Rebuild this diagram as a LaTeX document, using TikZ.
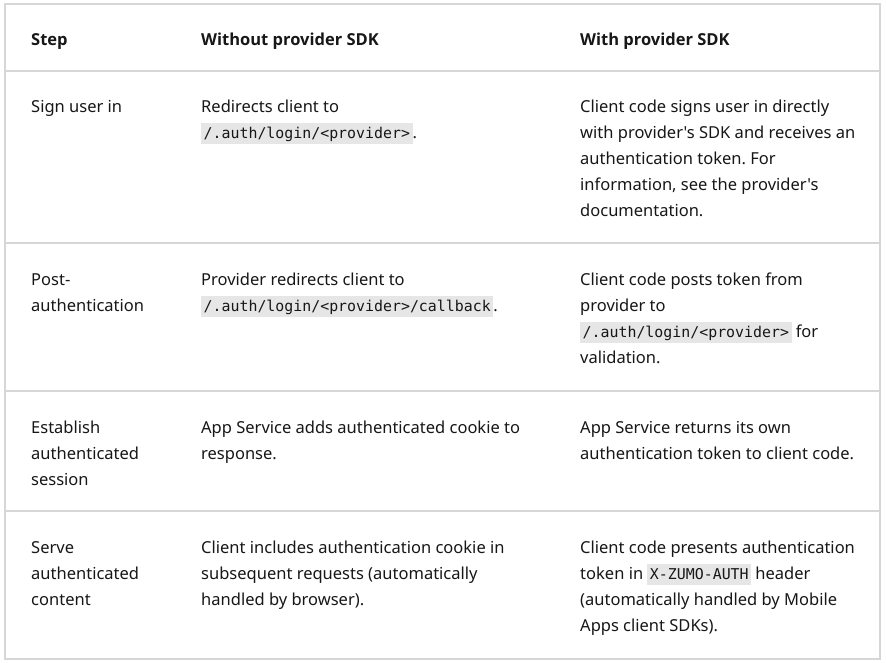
\documentclass[tikz,border=0pt]{standalone}
\usepackage{fontspec}
\usepackage{xcolor}
\newfontfamily\bodyfont{Noto Sans}[Ligatures=TeXOff]
\newfontfamily\headfont{Open Sans}[Ligatures=TeXOff]
\newfontfamily\codefont{DejaVu Sans Mono}
\definecolor{txt}{HTML}{171717}
\definecolor{rule}{HTML}{D6D6D6}
\definecolor{codebg}{HTML}{E6E6E6}
\frenchspacing
\newcommand\codebox[1]{{\setlength\fboxsep{0pt}\colorbox{codebg}{\hspace{2.5pt}\rule[-6pt]{0pt}{21pt}{\codefont\fontsize{14.9}{18}\selectfont #1}\hspace{2.5pt}}}}
\tikzset{
  cell/.style={anchor=base west, align=left, inner sep=0pt, text=txt,
    font=\bodyfont\frenchspacing\fontsize{16.5}{26}\selectfont},
  head/.style={cell, font=\headfont\bfseries\fontsize{16.5}{26}\selectfont},
  gridline/.style={draw=rule, line width=1.3pt}
}
\begin{document}
\begin{tikzpicture}[x=1pt,y=-1pt]
\useasboundingbox (0,0) rectangle (886,662);
\fill[white] (0,0) rectangle (886,662);
% table frame and row separators
\draw[gridline] (5,4) rectangle (880,659);
\coordinate (l1) at (5,71);  \coordinate (r1) at (880,71);
\coordinate (l2) at (5,243); \coordinate (r2) at (880,243);
\coordinate (l3) at (5,391); \coordinate (r3) at (880,391);
\coordinate (l4) at (5,511); \coordinate (r4) at (880,511);
\draw[gridline] (l1) -- (r1);
\draw[gridline] (l2) -- (r2);
\draw[gridline] (l3) -- (r3);
\draw[gridline] (l4) -- (r4);
% header (node base = baseline of last line)
\node[head] (h1) at (31,45) {Step};
\node[head] (h2) at (201,45) {Without provider SDK};
\node[head] (h3) at (580,45) {With provider SDK};
% row 1
\node[cell] (a1) at (31,112) {Sign user in};
\node[cell] (b1) at (201,138) {Redirects client to\\\codebox{/.auth/login/<provider>}.};
\node[cell] (c1) at (580,216) {Client code signs user in directly\\with provider's SDK and receives an\\authentication token. For\\information, see the provider's\\documentation.};
% row 2
\node[cell] (a2) at (31,311) {Post-\\authentication};
\node[cell] (b2) at (201,311) {Provider redirects client to\\\codebox{/.auth/login/<provider>/callback}.};
\node[cell] (c2) at (580,363) {Client code posts token from\\provider to\\\codebox{/.auth/login/<provider>} for\\validation.};
% row 3
\node[cell] (a3) at (31,485) {Establish\\authenticated\\session};
\node[cell] (b3) at (201,459) {App Service adds authenticated cookie to\\response.};
\node[cell] (c3) at (580,459) {App Service returns its own\\authentication token to client code.};
% row 4
\node[cell] (a4) at (31,605) {Serve\\authenticated\\content};
\node[cell] (b4) at (201,605) {Client includes authentication cookie in\\subsequent requests (automatically\\handled by browser).};
\node[cell] (c4) at (580,631) {Client code presents authentication\\token in \codebox{X-ZUMO-AUTH} header\\(automatically handled by Mobile\\Apps client SDKs).};
\end{tikzpicture}
\end{document}
